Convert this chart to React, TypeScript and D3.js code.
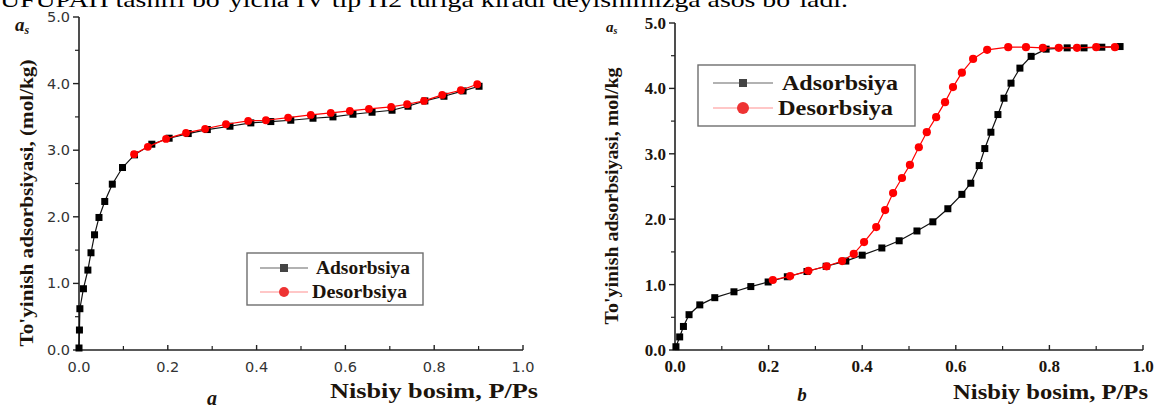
import React from "react";
import * as d3 from "d3";

// Isotherm data: [relative pressure P/Ps, adsorbed amount mol/kg]
const adsorptionA: [number, number][] = [
  [0, 0.03], [0.001, 0.3], [0.002, 0.62], [0.01, 0.92], [0.02, 1.2], [0.027, 1.46],
  [0.035, 1.73], [0.045, 1.99], [0.058, 2.23], [0.075, 2.49], [0.098, 2.74], [0.125, 2.93],
  [0.164, 3.09], [0.203, 3.18], [0.246, 3.25], [0.289, 3.31], [0.34, 3.36], [0.387, 3.41],
  [0.432, 3.43], [0.477, 3.45], [0.527, 3.48], [0.572, 3.5], [0.617, 3.54], [0.66, 3.57],
  [0.705, 3.6], [0.741, 3.66], [0.779, 3.74], [0.822, 3.81], [0.865, 3.89], [0.901, 3.96],
];
const desorptionA: [number, number][] = [
  [0.897, 3.99], [0.86, 3.9], [0.818, 3.83], [0.777, 3.74], [0.739, 3.69], [0.703, 3.65],
  [0.653, 3.62], [0.61, 3.59], [0.567, 3.56], [0.522, 3.53], [0.471, 3.49], [0.421, 3.45],
  [0.381, 3.44], [0.331, 3.39], [0.284, 3.32], [0.241, 3.26], [0.196, 3.17], [0.155, 3.05],
  [0.124, 2.94],
];
const adsorptionB: [number, number][] = [
  [0.002, 0.05], [0.01, 0.2], [0.018, 0.36], [0.03, 0.54], [0.053, 0.69], [0.085, 0.8],
  [0.126, 0.89], [0.162, 0.97], [0.199, 1.04], [0.24, 1.12], [0.282, 1.2], [0.323, 1.28],
  [0.365, 1.36], [0.4, 1.45], [0.442, 1.56], [0.479, 1.67], [0.517, 1.82], [0.551, 1.96],
  [0.583, 2.16], [0.613, 2.38], [0.632, 2.55], [0.65, 2.82], [0.662, 3.08], [0.675, 3.33],
  [0.69, 3.6], [0.703, 3.85], [0.718, 4.08], [0.737, 4.31], [0.761, 4.49], [0.793, 4.6],
  [0.838, 4.62], [0.874, 4.62], [0.912, 4.63], [0.951, 4.64],
];
const desorptionB: [number, number][] = [
  [0.94, 4.63], [0.9, 4.63], [0.859, 4.62], [0.82, 4.62], [0.786, 4.62], [0.75, 4.63],
  [0.712, 4.63], [0.667, 4.59], [0.637, 4.45], [0.613, 4.24], [0.594, 4.02], [0.577, 3.79],
  [0.558, 3.56], [0.538, 3.33], [0.521, 3.1], [0.502, 2.83], [0.485, 2.63], [0.466, 2.4],
  [0.449, 2.14], [0.43, 1.88], [0.404, 1.65], [0.382, 1.47], [0.357, 1.36], [0.324, 1.28],
  [0.285, 1.21], [0.246, 1.13], [0.209, 1.07],
];

const xMajorTicks = [0, 0.2, 0.4, 0.6, 0.8, 1.0];
const xMinorTicks = [0.1, 0.3, 0.5, 0.7, 0.9];
const yMajorTicks = [0, 1, 2, 3, 4, 5];
const yMinorTicks = [0.5, 1.5, 2.5, 3.5, 4.5];

const seriesNames = ["Adsorbsiya", "Desorbsiya"];
const captionText = "UFUPAH tasnifi bo`yicha IV tip H2 turiga kiradi deyishimizga asos bo`ladi.";

const SERIF = "'Liberation Serif', 'Times New Roman', serif";
const SANS = "'DejaVu Sans', 'Noto Sans', sans-serif";
const INK = "#1c140c";

type PanelProps = {
  xRange: [number, number];
  yRange: [number, number];
  ads: [number, number][];
  des: [number, number][];
  tickFont: string;
  tickWeight: string;
  tickSize: number;
  tickColor: string;
  sq: number;
  r: number;
};

function Panel({ xRange, yRange, ads, des, tickFont, tickWeight, tickSize, tickColor, sq, r }: PanelProps) {
  const x = d3.scaleLinear().domain([0, 1]).range(xRange);
  const y = d3.scaleLinear().domain([0, 5]).range(yRange);
  const line = d3.line<[number, number]>().x((d) => x(d[0])).y((d) => y(d[1]));
  const x0 = xRange[0];
  const y0 = yRange[0];
  return (
    <g>
      {/* axes */}
      <line x1={x0} x2={x0} y1={y(5)} y2={y0} stroke="#222" strokeWidth={1.6} />
      <line x1={x0} x2={xRange[1]} y1={y0} y2={y0} stroke="#222" strokeWidth={1.6} />
      {yMajorTicks.map((t) => (
        <g key={"ym" + t}>
          <line x1={x0 - 6} x2={x0} y1={y(t)} y2={y(t)} stroke="#222" strokeWidth={1.4} />
          <text x={x0 - 9} y={y(t)} dy="0.35em" textAnchor="end" fontFamily={tickFont}
            fontWeight={tickWeight} fontSize={tickSize} fill={tickColor}>{t.toFixed(1)}</text>
        </g>
      ))}
      {yMinorTicks.map((t) => (
        <line key={"yn" + t} x1={x0 - 4} x2={x0} y1={y(t)} y2={y(t)} stroke="#222" strokeWidth={1.2} />
      ))}
      {xMajorTicks.map((t) => (
        <g key={"xm" + t}>
          <line x1={x(t)} x2={x(t)} y1={y0} y2={y0 - 5} stroke="#222" strokeWidth={1.4} />
          <text x={x(t)} y={y0 + 22} textAnchor="middle" fontFamily={tickFont}
            fontWeight={tickWeight} fontSize={tickSize} fill={tickColor}>{t.toFixed(1)}</text>
        </g>
      ))}
      {xMinorTicks.map((t) => (
        <line key={"xn" + t} x1={x(t)} x2={x(t)} y1={y0} y2={y0 - 4} stroke="#222" strokeWidth={1.2} />
      ))}
      {/* adsorption branch */}
      <path d={line(ads) || ""} fill="none" stroke="#111" strokeWidth={1.2} />
      {ads.map((d, i) => (
        <rect key={"a" + i} x={x(d[0]) - sq / 2} y={y(d[1]) - sq / 2} width={sq} height={sq} fill="#000" />
      ))}
      {/* desorption branch */}
      <path d={line(des) || ""} fill="none" stroke="#f00" strokeWidth={1.2} />
      {des.map((d, i) => (
        <circle key={"d" + i} cx={x(d[0])} cy={y(d[1])} r={r} fill="#ff0000" />
      ))}
    </g>
  );
}

type LegendProps = {
  box: [number, number, number, number];
  rows: [number, number];
  lineX: [number, number];
  textX: [number, number];
  textLen: [number, number];
  fontSize: number;
  sq: number;
  r: number;
};

function Legend({ box, rows, lineX, textX, textLen, fontSize, sq, r }: LegendProps) {
  const mid = (lineX[0] + lineX[1]) / 2;
  return (
    <g>
      <rect x={box[0]} y={box[1]} width={box[2] - box[0]} height={box[3] - box[1]}
        fill="#fff" stroke="#6e6e6e" strokeWidth={1.4} />
      <line x1={lineX[0]} x2={lineX[1]} y1={rows[0]} y2={rows[0]} stroke="#666" strokeWidth={1.2} />
      <rect x={mid - sq / 2} y={rows[0] - sq / 2} width={sq} height={sq} fill="#444" />
      <line x1={lineX[0]} x2={lineX[1]} y1={rows[1]} y2={rows[1]} stroke="#ff9090" strokeWidth={1.2} />
      <circle cx={mid} cy={rows[1]} r={r} fill="#ee3333" />
      {seriesNames.map((name, i) => (
        <text key={name} x={textX[i]} y={rows[i]} dy="0.33em" fontFamily={SERIF} fontWeight="bold"
          fontSize={fontSize} fill={INK} textLength={textLen[i]} lengthAdjust="spacingAndGlyphs">{name}</text>
      ))}
    </g>
  );
}

export default function App() {
  return (
    <svg width={1158} height={407} style={{ position: "fixed", left: 0, top: 0, background: "#fff" }}>
      <rect width={1158} height={407} fill="#fff" />
      {/* running text of the page above the figure */}
      <text x={0} y={7} fontFamily={SERIF} fontSize={21} fill="#000" textLength={848}
        lengthAdjust="spacingAndGlyphs">{captionText}</text>

      {/* panel a */}
      <Panel xRange={[79, 523]} yRange={[350, 17]} ads={adsorptionA} des={desorptionA}
        tickFont={SANS} tickWeight="normal" tickSize={14.5} tickColor="#333" sq={7} r={3.9} />
      <text x={15} y={31} fontFamily={SERIF} fontStyle="italic" fontWeight="bold" fontSize={19} fill={INK}>
        a<tspan fontSize={12} dy={3}>s</tspan>
      </text>
      <text transform="translate(33,203) rotate(-90)" textAnchor="middle" fontFamily={SERIF}
        fontWeight="bold" fontSize={19} fill={INK} textLength={287} lengthAdjust="spacingAndGlyphs">
        To'yinish adsorbsiyasi, (mol/kg)
      </text>
      <text x={330} y={398} fontFamily={SERIF} fontWeight="bold" fontSize={21} fill={INK}
        textLength={208} lengthAdjust="spacingAndGlyphs">Nisbiy bosim, P/Ps</text>
      <text x={212} y={405} textAnchor="middle" fontFamily={SERIF} fontStyle="italic" fontWeight="bold"
        fontSize={20} fill={INK}>a</text>
      <Legend box={[247, 253, 423, 305]} rows={[268, 292]} lineX={[260, 308]} textX={[316, 312]}
        textLen={[94, 95]} fontSize={18} sq={8} r={5} />

      {/* panel b */}
      <Panel xRange={[675, 1143]} yRange={[350, 23]} ads={adsorptionB} des={desorptionB}
        tickFont={SERIF} tickWeight="bold" tickSize={17} tickColor={INK} sq={7} r={4.1} />
      <text x={606} y={32} fontFamily={SERIF} fontStyle="italic" fontWeight="bold" fontSize={15} fill={INK}>
        a<tspan fontSize={10} dy={2}>s</tspan>
      </text>
      <text transform="translate(618,196) rotate(-90)" textAnchor="middle" fontFamily={SERIF}
        fontWeight="bold" fontSize={19} fill={INK} textLength={257} lengthAdjust="spacingAndGlyphs">
        To'yinish adsorbsiyasi, mol/kg
      </text>
      <text x={953} y={399} fontFamily={SERIF} fontWeight="bold" fontSize={20} fill={INK}
        textLength={195} lengthAdjust="spacingAndGlyphs">Nisbiy bosim, P/Ps</text>
      <text x={802} y={401} textAnchor="middle" fontFamily={SERIF} fontStyle="italic" fontWeight="bold"
        fontSize={19} fill={INK}>b</text>
      <Legend box={[698, 65, 915, 126]} rows={[83, 108]} lineX={[713, 773]} textX={[782, 778]}
        textLen={[116, 115]} fontSize={22} sq={8} r={6} />
    </svg>
  );
}
